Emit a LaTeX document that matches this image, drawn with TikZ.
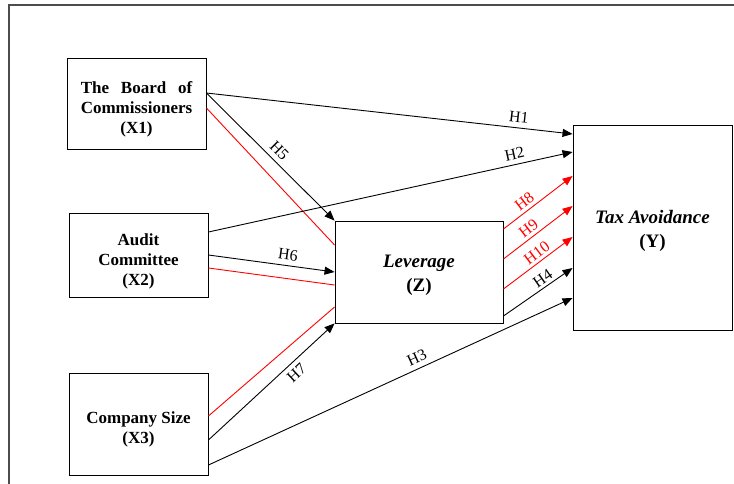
\documentclass[tikz,border=0pt]{standalone}
\usepackage{fontspec}
\setmainfont{Liberation Serif}
\usepackage{calc}
\usetikzlibrary{arrows.meta}
\newcommand{\boxtext}[2]{\raisebox{#1}[\height][\depth]{\begin{tabular}{@{}c@{}}#2\end{tabular}}}
\tikzset{
  box/.style={draw, line width=0.9pt, align=center, font=\fontsize{17}{20}\selectfont\bfseries, inner sep=0pt},
  bigbox/.style={draw, line width=0.9pt, align=center, font=\fontsize{19}{24}\selectfont\bfseries, inner sep=0pt},
  conn/.style={line width=0.9pt, -{Triangle[length=10pt,width=8pt]}},
  redconn/.style={conn, red},
  redline/.style={line width=0.9pt, red},
  lab/.style={font=\fontsize{16}{18}\selectfont, sloped, inner sep=5pt},
}
\begin{document}
\begin{tikzpicture}[x=1pt,y=-1pt]
\useasboundingbox (0,0) rectangle (734,483);
\draw[line width=1.6pt, black!70] (9,490) -- (9,5) -- (740,5);
\node[box, minimum width=139pt, minimum height=91pt] (X1) at (136.5,103.5)
  {\boxtext{-6pt}{\makebox[\widthof{Commissioners}][s]{The Board of}\\Commissioners\\(X1)}};
\node[box, minimum width=139pt, minimum height=84pt] (X2) at (138.5,255)
  {\boxtext{-6pt}{Audit\\Committee\\(X2)}};
\node[box, minimum width=139pt, minimum height=102pt] (X3) at (138.5,424)
  {\boxtext{-5pt}{Company Size\\(X3)}};
\node[bigbox, minimum width=168pt, minimum height=102pt] (Z) at (419,272)
  {\boxtext{-3pt}{\textit{Leverage}\\(Z)}};
\node[bigbox, minimum width=159pt, minimum height=205pt] (Y) at (652.5,227.5)
  {\boxtext{-3pt}{\textit{Tax Avoidance}\\(Y)}};
% H1
\draw[conn] ([yshift=10.5pt]X1.east) -- node[lab, pos=0.85, above] {H1} ([yshift=93.5pt]Y.west);
% H5
\draw[conn] ([yshift=10.5pt]X1.east) -- node[lab, pos=0.51, above] {H5} (Z.north west);
\draw[redline] ([yshift=-4.5pt]X1.east) -- ([yshift=27pt]Z.west);
% H2
\draw[conn] ([yshift=23pt]X2.east) -- node[lab, pos=0.847, above] {H2} ([yshift=75.5pt]Y.west);
% H6
\draw[conn] (X2.east) -- node[lab, pos=0.62, above] {H6} (Z.west);
\draw[redline] ([yshift=-13pt]X2.east) -- ([yshift=-13pt]Z.west);
% X3
\draw[redline] ([yshift=8pt]X3.east) -- ([yshift=-35pt]Z.west);
\draw[conn] ([yshift=-16pt]X3.east) -- node[lab, pos=0.64, below] {H7} (Z.south west);
\draw[conn] ([yshift=-41pt]X3.east) -- node[lab, pos=0.585, above] {H3} ([yshift=-70.5pt]Y.west);
% Z to Y
\draw[redconn] ([yshift=43pt]Z.east) -- node[lab, pos=0.38, above, inner sep=3pt] {H8} ([yshift=51.5pt]Y.west);
\draw[redconn] ([yshift=13pt]Z.east) -- node[lab, pos=0.44, above, inner sep=3pt] {H9} ([yshift=21.5pt]Y.west);
\draw[redconn] ([yshift=-17pt]Z.east) -- node[lab, pos=0.56, above, inner sep=3pt] {H10} ([yshift=-9.5pt]Y.west);
\draw[conn] ([yshift=-44pt]Z.east) -- node[lab, pos=0.64, above, inner sep=3pt] {H4} ([yshift=-40.5pt]Y.west);
\end{tikzpicture}
\end{document}
